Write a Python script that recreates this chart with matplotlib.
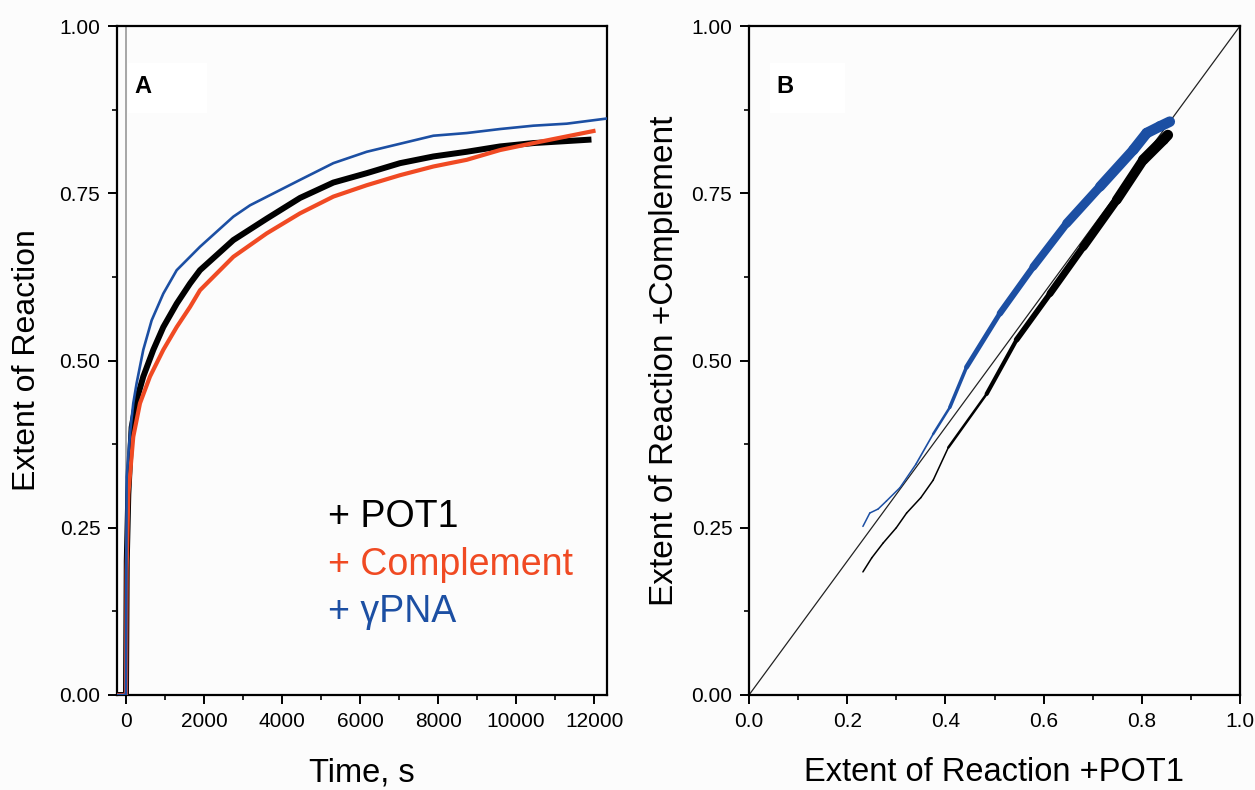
import matplotlib
matplotlib.use("Agg")
import matplotlib.pyplot as plt
from matplotlib.patches import Rectangle
from matplotlib.collections import LineCollection
from matplotlib.ticker import MultipleLocator
import numpy as np

plt.rcParams['font.family'] = ['Liberation Sans', 'DejaVu Sans']

# ---------------- Panel A data (time course) ----------------
pot1_t = [-230, 0, 20, 60, 145, 273, 444, 701, 957, 1300, 1641, 1897, 2752, 3607,
          4462, 5316, 6171, 7026, 7880, 8735, 9590, 10444, 11299, 11855]
pot1_y = [0, 0, 0.20, 0.30, 0.40, 0.441, 0.476, 0.516, 0.55, 0.585, 0.615, 0.635,
          0.68, 0.712, 0.743, 0.766, 0.78, 0.795, 0.805, 0.812, 0.82, 0.825, 0.828, 0.83]

comp_t = [-230, 0, 17, 60, 187, 359, 615, 957, 1300, 1641, 1897, 2752, 3607, 4462,
          5316, 6171, 7026, 7880, 8735, 9590, 10444, 11299, 11983]
comp_y = [0, 0, 0.187, 0.30, 0.386, 0.436, 0.476, 0.516, 0.55, 0.58, 0.605, 0.655,
          0.69, 0.72, 0.745, 0.762, 0.777, 0.79, 0.80, 0.8146, 0.825, 0.835, 0.843]

pna_t = [-230, 0, 17, 103, 187, 273, 444, 658, 957, 1300, 1556, 1897, 2752, 3180,
         4462, 5316, 6171, 7026, 7880, 8735, 9590, 10444, 11299, 12367]
pna_y = [0, 0, 0.326, 0.391, 0.436, 0.466, 0.516, 0.56, 0.60, 0.635, 0.65, 0.67,
         0.715, 0.732, 0.77, 0.795, 0.812, 0.824, 0.836, 0.84, 0.846, 0.851, 0.854, 0.862]

# ---------------- Panel B data (correlation) ----------------
b_pna_x = [0.232, 0.246, 0.263, 0.28, 0.3075, 0.34, 0.375, 0.409, 0.443, 0.511,
           0.579, 0.647, 0.715, 0.783, 0.81, 0.837, 0.857]
b_pna_y = [0.252, 0.272, 0.278, 0.29, 0.31, 0.345, 0.39, 0.43, 0.49, 0.5705,
           0.64, 0.705, 0.76, 0.815, 0.84, 0.85, 0.857]

b_pot1_x = [0.232, 0.25, 0.273, 0.30, 0.321, 0.35, 0.375, 0.406, 0.484, 0.545, 0.613,
            0.681, 0.749, 0.803, 0.844, 0.853]
b_pot1_y = [0.184, 0.205, 0.227, 0.25, 0.272, 0.295, 0.321, 0.37, 0.45, 0.531, 0.60,
            0.67, 0.74, 0.80, 0.83, 0.837]

identity = [0, 1]

legend_labels = ['+ POT1', '+ Complement', '+ \u03b3PNA']
xticks_a = [0, 2000, 4000, 6000, 8000, 10000, 12000]
yticks = [0.00, 0.25, 0.50, 0.75, 1.00]
xticks_b = [0.0, 0.2, 0.4, 0.6, 0.8, 1.0]

BLACK = '#000000'
RED = '#f04a23'
BLUE = '#1c4fa3'
BG = '#fcfcfc'

fig = plt.figure(figsize=(12.55, 7.9), dpi=100, facecolor=BG)
axA = fig.add_axes([117/1255, 1-695/790, 490/1255, 669/790], facecolor=BG)
axB = fig.add_axes([749/1255, 1-695/790, 491/1255, 669/790], facecolor=BG)

def style(ax):
    for s in ax.spines.values():
        s.set_linewidth(1.6)
    ax.tick_params(which='major', direction='out', length=6.5, width=1.4,
                   labelsize=15, top=False, right=False, pad=5.5)
    ax.tick_params(which='minor', direction='out', length=3.5, width=1.2,
                   top=False, right=False)

# Panel A
axA.axvline(0, color='#a0a0a0', lw=1.3, zorder=1)
axA.plot(pot1_t, pot1_y, color=BLACK, lw=4.3, zorder=3, solid_joinstyle='round')
axA.plot(comp_t, comp_y, color=RED, lw=3.0, zorder=4, solid_joinstyle='round')
axA.plot(pna_t, pna_y, color=BLUE, lw=1.9, zorder=5, solid_joinstyle='round')
axA.set_xlim(-230, 12330)
axA.set_ylim(0, 1)
axA.set_xticks(xticks_a)
axA.set_yticks(yticks)
axA.set_yticklabels([f'{v:.2f}' for v in yticks])
axA.xaxis.set_minor_locator(MultipleLocator(1000))
axA.yaxis.set_minor_locator(MultipleLocator(0.125))
style(axA)
axA.set_xlabel('Time, s', fontsize=23.5)
axA.set_ylabel('Extent of Reaction', fontsize=23)
axA.xaxis.set_label_coords(0.5, -0.093)
axA.yaxis.set_label_coords(-0.153, 0.5)
axA.add_patch(Rectangle((0.0224, 0.87), 0.161, 0.0747, transform=axA.transAxes,
                        facecolor='white', edgecolor='none', zorder=2))
axA.text(0.053, 0.909, 'A', transform=axA.transAxes, fontsize=17, fontweight='bold',
         ha='center', va='center', zorder=6)
for lab, col, yy in zip(legend_labels, [BLACK, RED, BLUE], [0.2516, 0.1794, 0.109]):
    axA.text(0.4306, yy, lab, transform=axA.transAxes, fontsize=27, color=col,
             ha='left', va='baseline', zorder=6)

# Panel B
axB.plot(identity, identity, color='#222222', lw=0.9, zorder=2)

def band(ax, xs, ys, color):
    pts = np.column_stack([xs, ys])
    segs = np.stack([pts[:-1], pts[1:]], axis=1)
    ymid = (np.array(ys[:-1]) + np.array(ys[1:])) / 2
    widths = 1.1 + 6.5 * np.clip((ymid - 0.36) / 0.45, 0, 1)
    lc = LineCollection(segs, colors=color, linewidths=widths, capstyle='round',
                        joinstyle='round', zorder=3)
    ax.add_collection(lc)

band(axB, b_pot1_x, b_pot1_y, BLACK)
band(axB, b_pna_x, b_pna_y, BLUE)
axB.set_xlim(0, 1)
axB.set_ylim(0, 1)
axB.set_xticks(xticks_b)
axB.set_xticklabels([f'{v:.1f}' for v in xticks_b])
axB.set_yticks(yticks)
axB.set_yticklabels([f'{v:.2f}' for v in yticks])
axB.xaxis.set_minor_locator(MultipleLocator(0.1))
axB.yaxis.set_minor_locator(MultipleLocator(0.125))
style(axB)
axB.set_xlabel('Extent of Reaction +POT1', fontsize=23.5)
axB.set_ylabel('Extent of Reaction +Complement', fontsize=24)
axB.xaxis.set_label_coords(0.5, -0.093)
axB.yaxis.set_label_coords(-0.14, 0.5)
axB.add_patch(Rectangle((0.0428, 0.87), 0.153, 0.0747, transform=axB.transAxes,
                        facecolor='white', edgecolor='none', zorder=1))
axB.text(0.073, 0.909, 'B', transform=axB.transAxes, fontsize=17, fontweight='bold',
         ha='center', va='center', zorder=6)

fig.savefig('out.png', dpi=100, facecolor=BG)
